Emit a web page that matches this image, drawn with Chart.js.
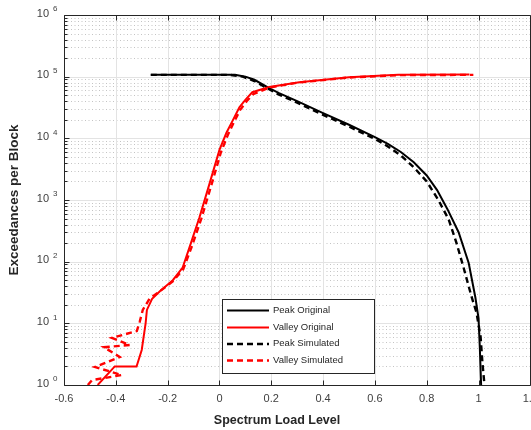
<!DOCTYPE html>
<html>
<head>
<meta charset="utf-8">
<script src="https://cdn.jsdelivr.net/npm/chart.js@4/dist/chart.umd.min.js"></script>
<style>
  html, body { margin: 0; padding: 0; background: #fff; overflow: hidden; }
  canvas { display: block; }
</style>
</head>
<body>
<canvas id="chart" width="545" height="430"></canvas>
<script>
// x = spectrum load level, y = exceedances per block
const peakOrigX = [-0.265, 0.06, 0.1, 0.135, 0.19, 0.23, 0.3, 0.4, 0.5, 0.6, 0.65, 0.7, 0.75, 0.8, 0.84, 0.88, 0.923, 0.962, 0.988, 1.0, 1.005, 1.01];
const peakOrigY = [107000, 107000, 100000, 89000, 66000, 54000, 40000, 25700, 16600, 10500, 8100, 6000, 4100, 2500, 1450, 710, 300, 95, 26, 12, 4, 1];

const valleyOrigX = [-0.47, -0.404, -0.32, -0.30, -0.285, -0.28, -0.26, -0.23, -0.18, -0.142, -0.115, -0.077, -0.038, 0.0, 0.027, 0.05, 0.077, 0.1, 0.127, 0.192, 0.308, 0.5, 0.69, 0.965];
const valleyOrigY = [1, 2, 2, 3.7, 10, 16.5, 25, 33, 50, 80, 174, 525, 1860, 6500, 12300, 19000, 32000, 42000, 56000, 68000, 81000, 98000, 107000, 108000];

const peakSimX = [-0.265, 0.04, 0.09, 0.135, 0.19, 0.23, 0.3, 0.4, 0.5, 0.6, 0.65, 0.7, 0.75, 0.8, 0.845, 0.885, 0.915, 0.942, 0.973, 0.992, 1.008, 1.015, 1.023];
const peakSimY = [107000, 107000, 100000, 85000, 63000, 51000, 38000, 24000, 15500, 9800, 7400, 5300, 3400, 2000, 1000, 480, 200, 81, 27, 15, 6, 2.3, 1];

const valleySimX = [-0.508, -0.492, -0.377, -0.481, -0.462, -0.385, -0.446, -0.346, -0.415, -0.319, -0.308, -0.296, -0.27, -0.235, -0.18, -0.14, -0.108, -0.07, -0.032, 0.006, 0.033, 0.055, 0.08, 0.105, 0.13, 0.19, 0.3, 0.5, 0.7, 0.98];
const valleySimY = [1, 1.2, 1.45, 1.96, 2.1, 2.85, 4.1, 4.45, 5.8, 7.5, 10.5, 16.5, 25, 32, 48, 75, 170, 500, 1700, 6000, 11500, 18000, 29000, 40000, 52000, 66000, 80000, 97000, 106000, 107000];

const seriesNames = ['Peak Original', 'Valley Original', 'Peak Simulated', 'Valley Simulated'];
const xTicks = [-0.6, -0.4, -0.2, 0, 0.2, 0.4, 0.6, 0.8, 1, 1.2];
const yDecades = [0, 1, 2, 3, 4, 5, 6];
const yMinorSteps = [2, 3, 4, 5, 6, 7, 8, 9];

const FONT = '"Liberation Sans", Arial, Helvetica, sans-serif';
const AXIS = '#262626';

function pts(xs, ys) {
  return xs.map((x, i) => ({ x: x, y: ys[i] }));
}

function line(label, xs, ys, color, dashed, order) {
  return {
    label: label,
    data: pts(xs, ys),
    borderColor: color,
    backgroundColor: color,
    borderWidth: dashed ? 2.4 : 2,
    borderDash: dashed ? [6, 4] : [],
    showLine: true,
    pointRadius: 0,
    tension: 0,
    order: order
  };
}

const datasets = [
  line(seriesNames[0], peakOrigX, peakOrigY, '#000000', false, 4),
  line(seriesNames[1], valleyOrigX, valleyOrigY, '#ff0000', false, 3),
  line(seriesNames[2], peakSimX, peakSimY, '#000000', true, 2),
  line(seriesNames[3], valleySimX, valleySimY, '#ff0000', true, 1)
];

const matlabAxes = {
  id: 'matlabAxes',
  beforeDatasetsDraw(chart) {
    const { ctx, chartArea: a, scales } = chart;
    const xs = scales.x, ys = scales.y;
    ctx.save();
    // minor dotted grid (y only)
    ctx.strokeStyle = '#c4c4c4';
    ctx.lineWidth = 1;
    ctx.setLineDash([1, 2.5]);
    yDecades.slice(0, -1).forEach(d => {
      yMinorSteps.forEach(m => {
        const y = Math.round(ys.getPixelForValue(m * Math.pow(10, d))) + 0.5;
        ctx.beginPath(); ctx.moveTo(a.left, y); ctx.lineTo(a.right, y); ctx.stroke();
      });
    });
    // major grid
    ctx.setLineDash([]);
    ctx.strokeStyle = '#e3e3e3';
    yDecades.forEach(d => {
      const y = Math.round(ys.getPixelForValue(Math.pow(10, d))) + 0.5;
      ctx.beginPath(); ctx.moveTo(a.left, y); ctx.lineTo(a.right, y); ctx.stroke();
    });
    xTicks.forEach(t => {
      const x = Math.round(xs.getPixelForValue(t)) + 0.5;
      ctx.beginPath(); ctx.moveTo(x, a.top); ctx.lineTo(x, a.bottom); ctx.stroke();
    });
    ctx.restore();
  },
  afterDatasetsDraw(chart) {
    const { ctx, chartArea: a, scales } = chart;
    const xs = scales.x, ys = scales.y;
    const L = Math.round(a.left) + 0.5, T = Math.round(a.top) + 0.5;
    const R = Math.round(a.right) + 0.5, B = Math.round(a.bottom) + 0.5;
    ctx.save();
    ctx.strokeStyle = AXIS;
    ctx.lineWidth = 1;
    ctx.beginPath();
    ctx.rect(L, T, R - L, B - T);
    ctx.stroke();
    // x ticks, inside, bottom and top
    xTicks.forEach(t => {
      const x = Math.round(xs.getPixelForValue(t)) + 0.5;
      ctx.beginPath();
      ctx.moveTo(x, B); ctx.lineTo(x, B - 5);
      ctx.moveTo(x, T); ctx.lineTo(x, T + 5);
      ctx.stroke();
    });
    // y ticks, major and minor
    yDecades.forEach(d => {
      const y = Math.round(ys.getPixelForValue(Math.pow(10, d))) + 0.5;
      ctx.beginPath(); ctx.moveTo(L, y); ctx.lineTo(L + 5, y); ctx.stroke();
      if (d < 6) {
        yMinorSteps.forEach(m => {
          const ym = Math.round(ys.getPixelForValue(m * Math.pow(10, d))) + 0.5;
          ctx.beginPath(); ctx.moveTo(L, ym); ctx.lineTo(L + 3, ym); ctx.stroke();
        });
      }
    });
    // y tick labels: 10 with raised exponent
    ctx.fillStyle = '#404040';
    ctx.textBaseline = 'middle';
    yDecades.forEach(d => {
      const y = ys.getPixelForValue(Math.pow(10, d));
      ctx.font = '11px ' + FONT;
      ctx.textAlign = 'right';
      ctx.fillText('10', 49, y - 1.5);
      ctx.font = '8px ' + FONT;
      ctx.textAlign = 'left';
      ctx.fillText(String(d), 53, y - 6);
    });
    ctx.restore();
  },
  afterDraw(chart) {
    const ctx = chart.ctx;
    ctx.save();
    // axis titles
    ctx.fillStyle = '#262626';
    ctx.font = 'bold 12.5px ' + FONT;
    ctx.textAlign = 'center';
    ctx.textBaseline = 'middle';
    ctx.fillText('Spectrum Load Level', 277, 421);
    ctx.translate(14, 200);
    ctx.rotate(-Math.PI / 2);
    ctx.font = 'bold 13.5px ' + FONT;
    ctx.fillText('Exceedances per Block', 0, 0);
    ctx.restore();

    // legend box
    ctx.save();
    ctx.fillStyle = '#ffffff';
    ctx.strokeStyle = AXIS;
    ctx.lineWidth = 1;
    ctx.fillRect(222.5, 299.5, 152, 74);
    ctx.strokeRect(222.5, 299.5, 152, 74);
    const rows = [310, 327, 343.5, 360];
    chart.data.datasets.forEach((ds, i) => {
      const y = rows[i] + 0.5;
      ctx.strokeStyle = ds.borderColor;
      ctx.lineWidth = ds.borderWidth;
      ctx.setLineDash(ds.borderDash);
      ctx.beginPath(); ctx.moveTo(227, y); ctx.lineTo(269, y); ctx.stroke();
      ctx.setLineDash([]);
      ctx.fillStyle = '#262626';
      ctx.font = '9.5px ' + FONT;
      ctx.textAlign = 'left';
      ctx.textBaseline = 'middle';
      ctx.fillText(ds.label, 273, rows[i]);
    });
    ctx.restore();
  }
};

new Chart(document.getElementById('chart'), {
  type: 'scatter',
  data: { datasets: datasets },
  options: {
    responsive: false,
    animation: false,
    devicePixelRatio: 1,
    layout: { padding: { top: 15, right: 13, left: 0, bottom: 0 } },
    plugins: { legend: { display: false }, tooltip: { enabled: false } },
    scales: {
      x: {
        type: 'linear',
        min: -0.6,
        max: 1.2,
        afterBuildTicks(scale) {
          scale.ticks = xTicks.map(v => ({ value: v }));
        },
        afterFit(scale) { scale.height = 45; },
        grid: { display: false, drawTicks: false },
        border: { display: false },
        ticks: {
          padding: 7,
          color: '#404040',
          font: { family: FONT, size: 11 },
          maxRotation: 0,
          autoSkip: false,
          callback: v => String(Math.round(v * 10) / 10)
        }
      },
      y: {
        type: 'logarithmic',
        min: 1,
        max: 1000000,
        afterFit(scale) { scale.width = 64; },
        grid: { display: false },
        border: { display: false },
        ticks: { display: false }
      }
    }
  },
  plugins: [matlabAxes]
});
</script>
</body>
</html>
